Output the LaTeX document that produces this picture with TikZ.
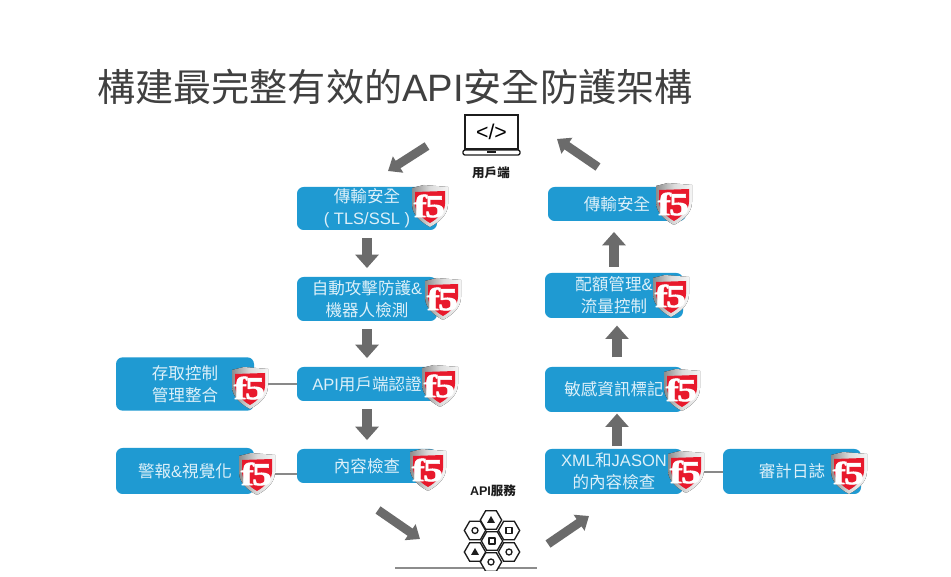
\documentclass[tikz,border=0pt]{standalone}
\usepackage{fontspec}
\usetikzlibrary{arrows.meta,shapes.geometric}
\setmainfont{Noto Sans CJK TC}
\newfontfamily\lat{Liberation Sans}
\newfontfamily\latb{Liberation Sans Bold}
\newfontfamily\ffive[FakeStretch=1.25,FakeBold=1.5]{Liberation Serif Bold}
\definecolor{boxblue}{HTML}{1F9AD2}
\definecolor{boxtext}{HTML}{DDF0F9}
\definecolor{arrowgray}{HTML}{6B6B6B}
\definecolor{fred}{HTML}{E8192C}
\definecolor{inkblack}{HTML}{1C1C1C}
\tikzset{
  infobox/.style={fill=boxblue,rounded corners=5pt,text=boxtext,align=center,inner sep=0pt,
    font=\fontsize{12.4}{16.5}\selectfont},
  fivemark/.style={minimum width=27pt,minimum height=31.5pt,inner sep=0pt,text=white,
    font=\ffive\fontsize{24}{24}\selectfont},
  bigarrow/.style={draw=arrowgray,line width=8.2pt,-{Triangle[width=17pt,length=10pt]}},
  diagarrow/.style={draw=arrowgray,line width=6.6pt,-{Triangle[width=14pt,length=9pt]}},
  linkline/.style={draw=arrowgray!80,line width=1.5pt},
  iconline/.style={draw=inkblack,line width=1pt,line join=round},
  hexcell/.style={regular polygon,regular polygon sides=6,shape border rotate=0,draw=inkblack,
    line width=1pt,minimum size=16pt,inner sep=0pt,fill=white},
  caption/.style={text=inkblack,font=\bfseries\fontsize{9.4}{11}\selectfont,inner sep=0pt},
}
\newcommand{\fshield}[3]{%
  \begin{scope}[shift={(#2,#3)}]
    \fill[left color=black!45,right color=black!4,middle color=black!14]
      (-18,-18) -- (-6,-21) -- (18,-19) -- (18,-2) .. controls (18,9) and (9,16) .. (0,21)
      .. controls (-9,16) and (-18,9) .. (-18,-2) -- cycle;
    \fill[fred] (-15,-14) -- (15,-15) -- (15,-2) .. controls (15,6) and (7,13) .. (0,17)
      .. controls (-7,13) and (-15,6) .. (-15,-2) -- cycle;
    \node[fivemark] (#1) at (0,0) {\kern-1pt f\kern-1.5pt 5};
  \end{scope}}
\begin{document}
\begin{tikzpicture}[x=0.75pt,y=-0.75pt]
\useasboundingbox (0,0) rectangle (951,577);
\fill[white] (0,0) rectangle (951,577);

% Title
\node[anchor=west,inner sep=0pt,text=black!75] (title) at (97,87)
  {\fontsize{28.6}{32}\selectfont 構建最完整有效的{\lat API}安全防護架構};

% Client laptop
\node[minimum width=39.75pt,minimum height=25.5pt,inner sep=0pt,draw=inkblack,line width=1pt] (screen) at (491.5,132)
  {\lat\fontsize{16}{16}\selectfont </>};
\draw[iconline,rounded corners=1.5pt] (463,150) rectangle (520,155);
\draw[line width=1.2pt,draw=inkblack] (487,152) -- (496,152);
\node[caption] (client) at (491,173) {用戶端};

% Left column
\node[infobox,minimum width=105pt,minimum height=32.25pt] (a1) at (367,208.5) {傳輸安全\\{\lat ( TLS/SSL )}};
\node[infobox,minimum width=105pt,minimum height=33pt] (a2) at (367,299) {自動攻擊防護{\lat\&}\\機器人檢測};
\node[infobox,minimum width=105pt,minimum height=25.5pt] (a3) at (367,384) {{\lat API}用戶端認證};
\node[infobox,minimum width=105pt,minimum height=25.5pt] (a4) at (367,466) {內容檢查};
\node[infobox,minimum width=103.5pt,minimum height=40pt] (l1) at (185,384) {存取控制\\管理整合};
\node[infobox,minimum width=103.5pt,minimum height=34.5pt] (l2) at (185,471) {警報{\lat\&}視覺化};

% Right column
\node[infobox,minimum width=103.5pt,minimum height=25.5pt] (r1) at (617,204) {傳輸安全};
\node[infobox,minimum width=103.5pt,minimum height=33.75pt] (r2) at (614,295.5) {配額管理{\lat\&}\\流量控制};
\node[infobox,minimum width=103.5pt,minimum height=33.75pt] (r3) at (614,389.5) {敏感資訊標記};
\node[infobox,minimum width=103.5pt,minimum height=33.75pt] (r4) at (614,471.5) {{\lat XML}和{\lat JASON}\\的內容檢查};
\node[infobox,minimum width=103.5pt,minimum height=33.75pt] (audit) at (792,471.5) {審計日誌};

% Shields
\fshield{sa1}{430}{206}
\fshield{sa2}{443}{299}
\fshield{sa3}{440}{386}
\fshield{sa4}{428}{470}
\fshield{sl1}{250}{388}
\fshield{sl2}{257}{474}
\fshield{sr1}{674}{204}
\fshield{sr2}{671}{296}
\fshield{sr3}{682}{390}
\fshield{sr4}{686}{472}
\fshield{sau}{849}{473}

% Links
\draw[linkline] (a3.west -| sl1.east) -- (a3.west);
\draw[linkline] (a4.west |- sl2.east) -- (sl2.east);
\draw[linkline] (sr4.east) -- (audit.west |- sr4.east);

% Vertical flow
\draw[bigarrow,shorten <=6pt,shorten >=6.5pt] (a1) -- (a2);
\draw[bigarrow,shorten <=6pt,shorten >=6.5pt] (a2) -- (a3);
\draw[bigarrow,shorten <=6pt,shorten >=6.5pt] (a3) -- (a4);
\draw[bigarrow,shorten <=2pt,shorten >=1pt] ([xshift=2.25pt]r4.north) -- ([xshift=2.25pt]r3.south);
\draw[bigarrow,shorten <=7pt,shorten >=5.5pt] ([xshift=2.25pt]r3.north) -- ([xshift=2.25pt]r2.south);
\draw[bigarrow,shorten <=4.5pt,shorten >=8pt] (r2.north) -- (r1.south -| r2.north);

% API service icon
\draw[draw=black!45,line width=0.9pt] (395,568) coordinate (gl) -- (537,568) coordinate (gr);
\foreach \nm/\cx/\cy in {h1/491/520,h2/475/530.5,h3/509/530.5,h4/492/541,h5/475/552,h6/509/552,h7/491/562}
  \node[hexcell] (\nm) at (\cx,\cy) {};
\foreach \nm in {h3,h4} \draw[iconline] ([shift={(-3,-3)}]\nm.center) rectangle ([shift={(3,3)}]\nm.center);
\foreach \nm in {h2,h6,h7} \draw[iconline] (\nm.center) circle[radius=3];
\foreach \nm in {h1,h5} \fill[inkblack] ([shift={(-4,3)}]\nm.center) -- ([shift={(4,3)}]\nm.center) -- ([shift={(0,-4)}]\nm.center) -- cycle;
\fill[white] (470,571.5) rectangle (510,577);
\node[caption] (api) at (493,491) {{\latb API}服務};

% Diagonal flow
\coordinate (dA) at (427,146); \coordinate (dB) at (388,171);
\coordinate (dC) at (598,167); \coordinate (dD) at (557,139);
\coordinate (dE) at (378,510); \coordinate (dF) at (420,539);
\coordinate (dG) at (548,544); \coordinate (dH) at (589,516);
\draw[diagarrow] (dA) -- (dB);
\draw[diagarrow] (dC) -- (dD);
\draw[diagarrow] (dE) -- (dF);
\draw[diagarrow] (dG) -- (dH);
\end{tikzpicture}
\end{document}
